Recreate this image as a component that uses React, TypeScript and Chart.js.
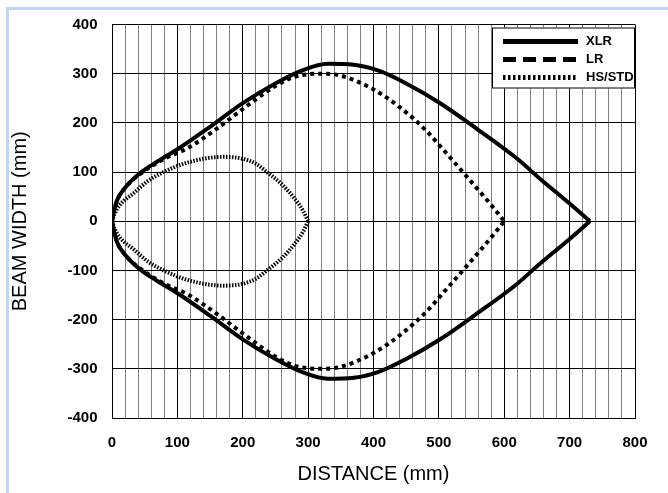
import React, { useEffect, useRef } from 'react';
import { Chart, registerables } from 'chart.js';

Chart.register(...registerables);

const FONT = "'Liberation Sans', Arial, sans-serif";

const seriesNames = ['XLR', 'LR', 'HS/STD'];

// XLR (distance in mm, upper and lower beam width in mm)
const xlrDistance = [0, 3, 8, 20, 43, 70, 102, 150, 200, 250, 290, 330, 370, 410, 450, 502, 560, 619, 655, 700, 731];
const xlrUpper = [0, 20, 43, 68, 98, 122, 148, 192, 240, 280, 306, 320, 318, 305, 280, 240, 186, 128, 86, 36, 0];
const xlrLower = [0, -20, -43, -68, -98, -122, -148, -192, -240, -280, -306, -320, -318, -305, -280, -240, -186, -128, -86, -36, 0];

// LR
const lrDistance = [0, 3, 8, 20, 45, 80, 115, 160, 200, 250, 280, 320, 350, 400, 440, 480, 507, 540, 568, 588, 600];
const lrUpper = [0, 20, 43, 68, 98, 127, 148, 188, 228, 275, 294, 300, 296, 268, 232, 185, 145, 95, 52, 20, 0];
const lrLower = [0, -20, -43, -68, -98, -127, -148, -188, -228, -275, -294, -300, -296, -268, -232, -185, -145, -95, -52, -20, 0];

// HS/STD
const hsDistance = [0, 4, 12, 33, 55, 79, 110, 140, 170, 200, 220, 237, 260, 280, 292, 300];
const hsUpper = [0, 15, 33, 57, 82, 100, 117, 127, 131, 127, 117, 100, 75, 45, 22, 0];
const hsLower = [0, -15, -33, -57, -82, -100, -117, -127, -131, -127, -117, -100, -75, -45, -22, 0];

const xTickLabels = [0, 100, 200, 300, 400, 500, 600, 700, 800];
const yTickLabels = [-400, -300, -200, -100, 0, 100, 200, 300, 400];

const plotDashes = [[], [4, 4], [1.5, 1.5]];
const legendDashes = [[], [13, 7], [2.5, 2.5]];

function points(dist: number[], widths: number[]) {
  return dist.map((d, i) => ({ x: d, y: widths[i] }));
}

const boxLegend = {
  id: 'boxLegend',
  afterDatasetsDraw(chart: any) {
    const { ctx, chartArea: ca } = chart;
    const boxW = 143;
    const boxH = 61;
    const left = ca.right - boxW;
    const top = ca.top + 3;
    ctx.save();
    ctx.fillStyle = '#ffffff';
    ctx.fillRect(left, top, boxW, boxH);
    ctx.strokeStyle = '#000000';
    ctx.lineWidth = 1;
    ctx.setLineDash([]);
    ctx.strokeRect(left + 0.5, top + 0.5, boxW - 1, boxH - 1);
    seriesNames.forEach((name, i) => {
      const y = top + 14 + i * 18;
      ctx.beginPath();
      ctx.setLineDash(legendDashes[i]);
      ctx.lineWidth = 5;
      ctx.lineCap = 'butt';
      ctx.strokeStyle = '#000000';
      ctx.moveTo(left + 11, y);
      ctx.lineTo(left + 86, y);
      ctx.stroke();
      ctx.setLineDash([]);
      ctx.fillStyle = '#000000';
      ctx.font = `bold 13px ${FONT}`;
      ctx.textBaseline = 'middle';
      ctx.textAlign = 'left';
      ctx.fillText(name, left + 94, y);
    });
    ctx.restore();
  },
};

export default function App() {
  const ref = useRef<HTMLCanvasElement>(null);

  useEffect(() => {
    if (!ref.current) return;
    const halves = [
      { s: 0, data: points(xlrDistance, xlrUpper) },
      { s: 0, data: points(xlrDistance, xlrLower) },
      { s: 1, data: points(lrDistance, lrUpper) },
      { s: 1, data: points(lrDistance, lrLower) },
      { s: 2, data: points(hsDistance, hsUpper) },
      { s: 2, data: points(hsDistance, hsLower) },
    ];
    const chart = new Chart(ref.current, {
      type: 'scatter',
      data: {
        datasets: halves.map((h) => ({
          label: seriesNames[h.s],
          data: h.data,
          showLine: true,
          borderColor: '#000000',
          backgroundColor: '#000000',
          borderWidth: 4,
          borderDash: plotDashes[h.s],
          pointRadius: 0,
          pointHoverRadius: 0,
          cubicInterpolationMode: 'monotone',
          fill: false,
        })),
      },
      options: {
        responsive: false,
        animation: false,
        devicePixelRatio: 1,
        layout: { padding: { left: 0, top: 24.5, right: 33, bottom: 0 } },
        plugins: {
          legend: { display: false },
          tooltip: { enabled: false },
        },
        scales: {
          x: {
            type: 'linear',
            min: 0,
            max: 800,
            afterFit: (s: any) => { s.height = 75; },
            border: { display: true, color: '#000000', width: 1 },
            grid: {
              drawTicks: false,
              lineWidth: 1,
              color: (c: any) => (c.tick && xTickLabels.includes(Math.round(c.tick.value)) ? '#000000' : '#808080'),
            },
            ticks: {
              stepSize: 20,
              autoSkip: false,
              maxRotation: 0,
              padding: 16,
              color: '#000000',
              font: { family: FONT, size: 15, weight: 'bold' },
              callback: (v: any) => (xTickLabels.includes(Math.round(v)) ? String(Math.round(v)) : ''),
            },
            title: {
              display: true,
              text: 'DISTANCE (mm)',
              color: '#000000',
              font: { family: FONT, size: 20, weight: 'normal' },
              padding: { top: 0, bottom: 7 },
            },
          },
          y: {
            type: 'linear',
            min: -400,
            max: 400,
            afterFit: (s: any) => { s.width = 112; },
            border: { display: true, color: '#000000', width: 1 },
            grid: { drawTicks: false, lineWidth: 1, color: '#000000' },
            ticks: {
              stepSize: 100,
              autoSkip: false,
              padding: 14.5,
              color: '#000000',
              font: { family: FONT, size: 15, weight: 'bold' },
              callback: (v: any) => (yTickLabels.includes(Math.round(v)) ? String(Math.round(v)) : ''),
            },
            title: {
              display: true,
              text: 'BEAM WIDTH (mm)',
              color: '#000000',
              font: { family: FONT, size: 20, weight: 'normal' },
              padding: { top: 8, bottom: 0 },
            },
          },
        },
      } as any,
      plugins: [boxLegend],
    });
    return () => chart.destroy();
  }, []);

  return (
    <div style={{ position: 'absolute', left: 0, top: 0, width: 668, height: 493, overflow: 'hidden', background: '#ffffff' }}>
      <div style={{ position: 'absolute', left: 6, top: 7, width: 662, height: 3, background: '#c3d6ef' }} />
      <div style={{ position: 'absolute', left: 6, top: 7, width: 3, height: 486, background: '#c3d6ef' }} />
      <canvas ref={ref} width={668} height={493} style={{ position: 'absolute', left: 0, top: 0, width: 668, height: 493 }} />
    </div>
  );
}
